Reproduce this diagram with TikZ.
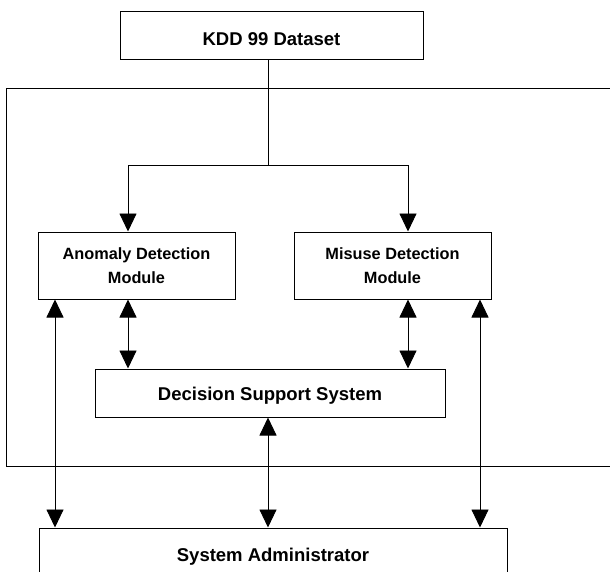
\documentclass[tikz,border=0pt]{standalone}
\usepackage{fontspec}
\setmainfont{Liberation Sans}
\usetikzlibrary{arrows.meta}
\begin{document}
\begin{tikzpicture}[x=1pt,y=-1pt,
  line width=0.9pt,
  box/.style={draw, line width=1pt, inner sep=0pt, align=center, font=\bfseries},
  big/.style={font=\fontsize{18.5}{22}\selectfont\bfseries, text depth=0pt},
  small/.style={font=\fontsize{16.3}{24}\selectfont\bfseries, yshift=-1pt},
  tip/.tip={Triangle[width=17pt,length=18pt]},
  link/.style={tip-tip},
  into/.style={-tip}]
\useasboundingbox (0,0) rectangle (610,571);

% enclosing frame of the detection part (open to the right)
\draw (614,88) -- (6,88) -- (6,466) -- (614,466);

% boxes
\node[box, big, text height=20pt, minimum width=303pt, minimum height=48pt] (kdd) at (271.5,35.5) {KDD 99 Dataset};
\node[box, small, minimum width=197pt, minimum height=67pt] (ano) at (136.5,264.5) {Anomaly Detection\\Module};
\node[box, small, minimum width=197pt, minimum height=67pt] (mis) at (392.5,264.5) {Misuse Detection\\Module};
\node[box, big, text height=15pt, minimum width=350pt, minimum height=48pt] (dss) at (270,393) {Decision Support System};
\node[box, big, text height=14pt, minimum width=468pt, minimum height=52pt] (sa) at (273,554) {System Administrator};

% branch points and columns
\coordinate (jM) at (268,165);
\coordinate (jL) at (128,165);
\coordinate (jR) at (408,165);
\coordinate (cL) at (55,0);
\coordinate (cR) at (480,0);

% dataset feeding both modules
\draw (kdd.south -| jM) -- (jM);
\draw (jL) -- (jR);
\draw[into] (jL) -- (ano.north -| jL);
\draw[into] (jR) -- (mis.north -| jR);

% modules <-> decision support
\draw[link] (ano.south -| jL) -- (dss.north -| jL);
\draw[link] (mis.south -| jR) -- (dss.north -| jR);

% links to the administrator
\draw[link] (ano.south -| cL) -- (sa.north -| cL);
\draw[link] (mis.south -| cR) -- (sa.north -| cR);
\draw[link] (dss.south -| jM) -- (sa.north -| jM);
\end{tikzpicture}
\end{document}
